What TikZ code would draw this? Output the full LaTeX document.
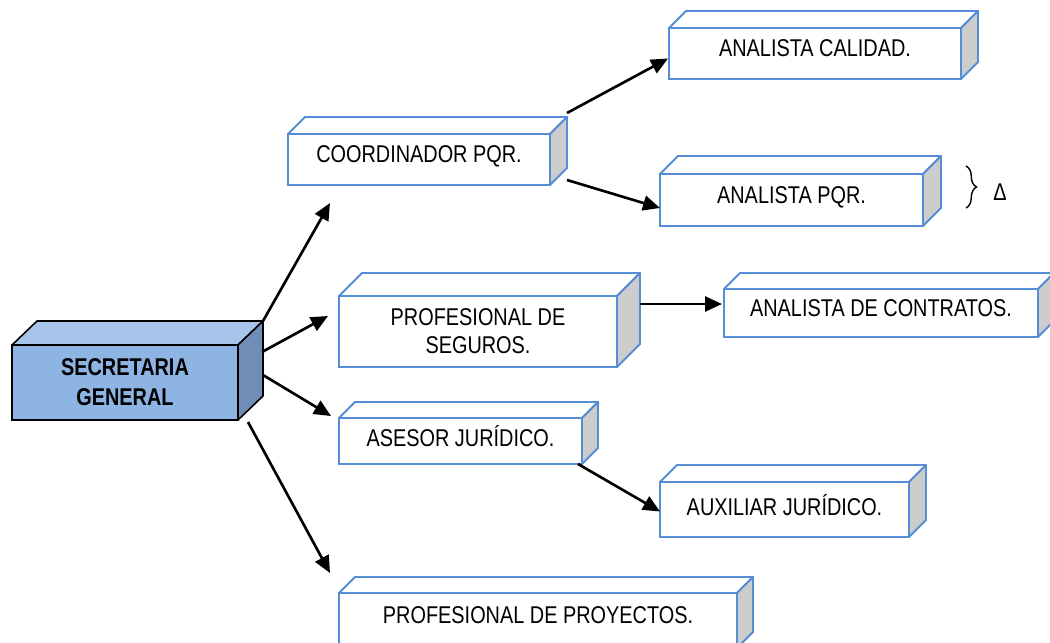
\documentclass[tikz,border=0pt]{standalone}
\usepackage{fontspec}
\setmainfont{Liberation Sans}[FakeStretch=0.82]
\usepackage{xcolor}
\usetikzlibrary{arrows.meta, decorations.pathreplacing}

\definecolor{bordeazul}{HTML}{558ED5}
\definecolor{ladogris}{HTML}{CCCCCC}
\definecolor{frenteazul}{HTML}{8EB4E3}
\definecolor{techoazul}{HTML}{A7C4EA}
\definecolor{ladoazul}{HTML}{6F8DB6}

\begin{document}
\begin{tikzpicture}[
    x=0.02cm, y=-0.02cm,
    caja/.style 2 args={draw=bordeazul, line width=1.1pt, fill=white, minimum width=#1*0.02cm, minimum height=#2*0.02cm, inner sep=1pt, outer sep=0pt, align=center, font=\fontsize{13.8}{16}\selectfont},
    unalinea/.style={text depth=0.2cm},
    cara/.style={draw=bordeazul, line width=1.1pt, line join=round},
    flecha/.style={-{Triangle[length=0.34cm, width=0.3cm]}, line width=1.5pt},
    ]
    \clip (0,0) rectangle (1050,642);

    % Secretaria (caja principal)
    \node[caja={226}{75}, draw=black, fill=frenteazul, line width=0.9pt, font=\fontsize{13.8}{17}\selectfont\bfseries] (sec) at (125,382.5) {SECRETARIA\\GENERAL};
    \draw[line width=0.9pt, line join=round, fill=techoazul] (sec.north west) -- ++(25,-24) -- ([shift={(25,-24)}]sec.north east) -- (sec.north east) -- cycle;
    \draw[line width=0.9pt, line join=round, fill=ladoazul] (sec.north east) -- ++(25,-24) -- ([shift={(25,-24)}]sec.south east) -- (sec.south east) -- cycle;

    % Cargos
    \node[caja={262}{51}, unalinea] (coord) at (419,159.5) {COORDINADOR PQR.};
    \node[caja={292}{51}, unalinea] (calidad) at (815,53.5) {ANALISTA CALIDAD.};
    \node[caja={263}{52}, unalinea] (apqr) at (791.5,200) {ANALISTA PQR.};
    \node[caja={278}{71}] (seguros) at (478,331.5) {PROFESIONAL DE\\SEGUROS.};
    \node[caja={314}{48}, unalinea] (contratos) at (881,313) {ANALISTA DE CONTRATOS.};
    \node[caja={243}{46}, unalinea] (asesor) at (460.5,441) {ASESOR JURÍDICO.};
    \node[caja={249}{55}, unalinea] (auxiliar) at (784.5,509.5) {AUXILIAR JURÍDICO.};
    \node[caja={398}{55}, unalinea] (proyectos) at (538,620.5) {PROFESIONAL DE PROYECTOS.};

    % Caras superior y lateral
    \foreach \n/\d in {coord/17, calidad/17, apqr/18, seguros/23, contratos/16, asesor/16, auxiliar/17, proyectos/16} {
        \draw[cara, fill=white] (\n.north west) -- ++(\d,-\d) -- ([shift={(\d,-\d)}]\n.north east) -- (\n.north east) -- cycle;
        \draw[cara, fill=ladogris] (\n.north east) -- ++(\d,-\d) -- ([shift={(\d,-\d)}]\n.south east) -- (\n.south east) -- cycle;
    }

    % Llave y delta
    \coordinate (llavearriba) at (966,166);
    \coordinate (llaveabajo) at (966,208);
    \draw[decorate, decoration={brace, amplitude=6pt}, line width=0.8pt] (llavearriba) -- (llaveabajo);
    \node[font=\fontsize{13.8}{16}\selectfont] (delta) at (1000,192) {Δ};

    % Flechas
    \draw[flecha] ([shift={(25,-24)}]sec.north east) -- ([shift={(42,18)}]coord.south west);
    \draw[flecha] ([shift={(24,7)}]sec.north east) -- ([shift={(-11,20)}]seguros.north west);
    \draw[flecha] ([shift={(25,30)}]sec.north east) -- ([shift={(-8,-2)}]asesor.north west);
    \draw[flecha] ([shift={(10,2)}]sec.south east) -- ([shift={(-9,-20)}]proyectos.north west);
    \draw[flecha] ([shift={(17,-21)}]coord.north east) -- ([shift={(-1,5)}]calidad.west);
    \draw[flecha] ([shift={(17,-5)}]coord.south east) -- ([shift={(0,8)}]apqr.west);
    \draw[flecha] ([shift={(23,8)}]seguros.north east) -- ([shift={(-2,-9)}]contratos.west);
    \draw[flecha] ([shift={(-4,0)}]asesor.south east) -- ([shift={(0,2)}]auxiliar.west);
\end{tikzpicture}
\end{document}
